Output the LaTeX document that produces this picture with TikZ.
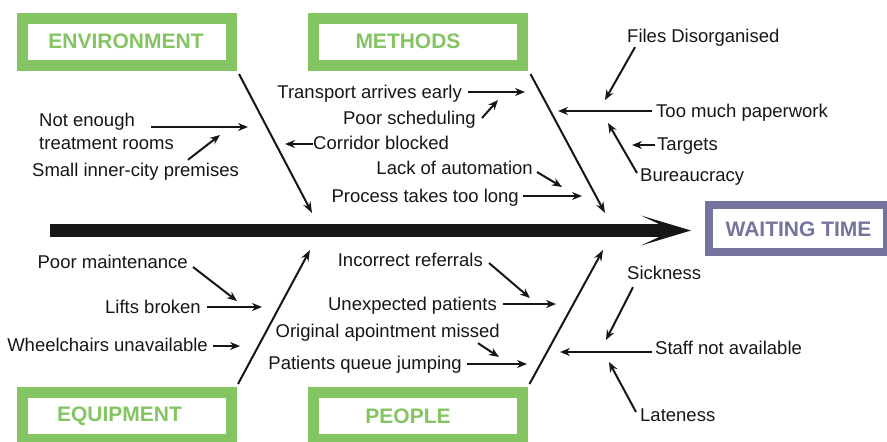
\documentclass[tikz,border=0pt]{standalone}
\usepackage{fontspec}
\setmainfont{Liberation Sans}
\usetikzlibrary{arrows.meta,calc}
\definecolor{catgreen}{HTML}{84C462}
\definecolor{effectblue}{HTML}{74749E}
\definecolor{ink}{HTML}{161616}
\tikzset{
  cause/.style={inner sep=0pt, text height=13pt, text depth=0pt, text=ink,
    font=\fontsize{18.5}{23}\selectfont},
  catbox/.style={draw=catgreen, line width=11pt, fill=white, inner sep=0pt,
    minimum width=209pt, minimum height=47pt},
  cattitle/.style={inner sep=0pt, text=catgreen, font=\fontsize{21}{25}\selectfont\bfseries},
  arr/.style={draw=ink, line width=2pt, -{Stealth[length=10pt,width=8pt]}},
  bone/.style={draw=ink, line width=2pt, -{Stealth[length=11pt,width=8pt]}},
}
\begin{document}
\begin{tikzpicture}[x=1pt,y=-1pt]
\useasboundingbox (0,0) rectangle (887,442);

% effect box
\node[draw=effectblue, line width=8pt, fill=white, minimum width=178pt,
      minimum height=47pt, inner sep=0pt] (wait) at (798,228) {};
\node[inner sep=0pt, text=effectblue, font=\fontsize{21}{25}\selectfont\bfseries]
      (waitT) at (798.5,229) {WAITING TIME};

% spine with its arrow head
\coordinate (sp0) at (50,230.5);
\coordinate (tip) at ([xshift=-14pt]sp0 -| wait.west);
\draw[ink, line width=13pt] (sp0) -- ($(tip)+(-32,0)$);
\fill[ink] (tip) -- ++(-50,-15) -- ++(17,8) -- ++(0,14) -- ++(-17,8) -- cycle;

% bones (drawn before the titles; boxes cover their far ends)
\coordinate (envH) at (312,213);
\coordinate (methH) at (605,213);
\coordinate (equH) at (310,250);
\coordinate (peoH) at (603,250);

\node[catbox] (env)  at (127,42)   {};
\node[catbox] (meth) at (417.5,42) {};
\node[catbox] (equ)  at (127,416)  {};
\node[catbox] (peo)  at (417.5,416){};

\draw[bone] ($(env.south east)+(2,3)$) -- (envH);
\draw[bone] ($(meth.south east)+(3,3)$) -- (methH);
\draw[bone] ($(equ.north east)+(1,-3)$) -- (equH);
\draw[bone] ($(peo.north east)+(2,-3)$) -- (peoH);

\node[cattitle] (envT)  at (126,41)  {ENVIRONMENT};
\node[cattitle] (methT) at (408,41)  {METHODS};
\node[cattitle] (equT)  at (119.5,416) {EQUIPMENT};
\node[cattitle] (peoT)  at (408,416) {PEOPLE};

% ---- environment causes
\node[inner sep=0pt, text=ink, align=left, anchor=north west,
      font=\fontsize{18.5}{23}\selectfont] (rooms) at (39,112.5)
      {Not enough\\treatment rooms};
\node[cause, anchor=west] (premises) at (32,170) {Small inner-city premises};
\node[cause, anchor=west] (corridor) at (313,143) {Corridor blocked};
\coordinate (roomsH) at (248,127);
\coordinate (premH) at (220,135);
\coordinate (corrH) at (285,144);
\draw[arr] ($(rooms.north west)+(112,14.5)$) -- (roomsH);
\draw[arr] ($(premises.north west)+(156,-3.5)$) -- (premH);
\draw[arr] ($(corridor.west)+(0,1)$) -- (corrH);

% ---- methods causes
\node[cause, anchor=east] (transport) at (462,92)  {Transport arrives early};
\node[cause, anchor=east] (sched)     at (476,118) {Poor scheduling};
\node[cause, anchor=east] (auto)      at (533,168) {Lack of automation};
\node[cause, anchor=east] (process)   at (519,196) {Process takes too long};
\coordinate (transH) at (525,92);
\coordinate (schedH) at (498,100);
\coordinate (autoH)  at (562,187);
\coordinate (procH)  at (582,196);
\draw[arr] ($(transport.east)+(6,0)$) -- (transH);
\draw[arr] ($(sched.east)+(6,0)$) -- (schedH);
\draw[arr] ($(auto.east)+(4,4)$) -- (autoH);
\draw[arr] ($(process.east)+(4,0)$) -- (procH);

% ---- paperwork branch
\node[cause, anchor=west] (files)    at (627,36)  {Files Disorganised};
\node[cause, anchor=west] (paper)    at (656,111) {Too much paperwork};
\node[cause, anchor=west] (targets)  at (657,144) {Targets};
\node[cause, anchor=west] (bureau)   at (640,175) {Bureaucracy};
\coordinate (paperH)  at (558,111);
\coordinate (filesH)  at (605,100);
\coordinate (targH)   at (632,145);
\coordinate (burH)    at (608,123);
\draw[arr] ($(paper.west)+(-4,0)$) -- (paperH);
\draw[arr] ($(files.south west)+(8,4.5)$) -- (filesH);
\draw[arr] ($(targets.west)+(-2,1)$) -- (targH);
\draw[arr] ($(bureau.west)+(-3,-2)$) -- (burH);

% ---- equipment causes
\node[cause, anchor=east] (maint)  at (188,262) {Poor maintenance};
\node[cause, anchor=east] (lifts)  at (201,307) {Lifts broken};
\node[cause, anchor=east] (wheel)  at (208,345) {Wheelchairs unavailable};
\coordinate (maintH) at (237,301);
\coordinate (liftsH) at (262,307);
\coordinate (wheelH) at (240,346);
\draw[arr] ($(maint.east)+(5,5)$) -- (maintH);
\draw[arr] ($(lifts.east)+(6,0)$) -- (liftsH);
\draw[arr] ($(wheel.east)+(5,1)$) -- (wheelH);

% ---- people causes
\node[cause, anchor=east] (referral) at (483,260) {Incorrect referrals};
\node[cause, anchor=east] (unexp)    at (497,304) {Unexpected patients};
\node[cause, anchor=east] (missed)   at (500,331) {Original apointment missed};
\node[cause, anchor=east] (queue)    at (462,363) {Patients queue jumping};
\coordinate (refH)   at (530,298);
\coordinate (unexpH) at (556,304);
\coordinate (missH)  at (499,357);
\coordinate (queueH) at (527,364);
\draw[arr] ($(referral.east)+(6,3)$) -- (refH);
\draw[arr] ($(unexp.east)+(6,0)$) -- (unexpH);
\draw[arr] ($(missed.south east)+(-22,5.5)$) -- (missH);
\draw[arr] ($(queue.east)+(5,1)$) -- (queueH);

% ---- staff branch
\node[cause, anchor=west] (sick)  at (627,273) {Sickness};
\node[cause, anchor=west] (staff) at (655,348) {Staff not available};
\node[cause, anchor=west] (late)  at (640,415) {Lateness};
\coordinate (staffH) at (560,352);
\coordinate (sickH)  at (606,340);
\coordinate (lateH)  at (609,362);
\draw[arr] ($(staff.west)+(-3,4)$) -- (staffH);
\draw[arr] ($(sick.south west)+(6,7.5)$) -- (sickH);
\draw[arr] ($(late.west)+(-4,-3)$) -- (lateH);
\end{tikzpicture}
\end{document}
